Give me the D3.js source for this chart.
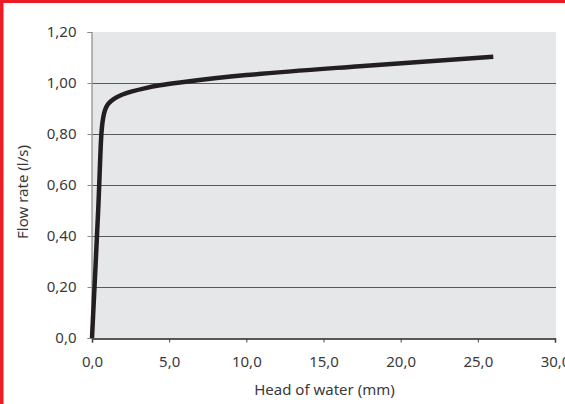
<!DOCTYPE html>
<html><head><meta charset="utf-8">
<script src="https://cdn.jsdelivr.net/npm/d3@7"></script>
<style>html,body{margin:0;padding:0;background:#fff;overflow:hidden}</style>
</head><body>
<svg id="c" width="565" height="404"></svg>
<script>
const headMM = [0, 0.4, 0.62, 0.72, 0.84, 1.05, 1.4, 1.9, 2.6, 3.4, 4.4, 5.7, 10, 17.35, 26];
const flowLs = [0, 0.5, 0.81, 0.862, 0.893, 0.918, 0.937, 0.953, 0.967, 0.979, 0.991, 1.002, 1.031, 1.066, 1.103];
const xTicks = [0, 5, 10, 15, 20, 25, 30];
const yTicks = [0, 0.2, 0.4, 0.6, 0.8, 1.0, 1.2];
const xTitle = "Head of water (mm)";
const yTitle = "Flow rate (l/s)";

const svg = d3.select("#c");
const font = "'Noto Sans', sans-serif";
const L = 92, R = 555, T = 32, B = 338;
const x = d3.scaleLinear().domain([0, 30]).range([L, R]);
const y = d3.scaleLinear().domain([0, 1.2]).range([B, T]);

// red frame (top and left)
svg.append("rect").attr("x", 0).attr("y", 0).attr("width", 565).attr("height", 3).attr("fill", "#ed1c24");
svg.append("rect").attr("x", 0).attr("y", 0).attr("width", 3.5).attr("height", 404).attr("fill", "#ed1c24");

// plot background
svg.append("rect").attr("x", L).attr("y", T).attr("width", R - L + 1).attr("height", B - T).attr("fill", "#e6e7e8");

// gridlines
svg.append("g").selectAll("line").data(yTicks.filter(d => d > 0 && d < 1.2)).join("line")
  .attr("x1", L).attr("x2", R + 1)
  .attr("y1", d => Math.round(y(d)) + 0.5).attr("y2", d => Math.round(y(d)) + 0.5)
  .attr("stroke", "#5a5a5a").attr("stroke-width", 1.2);

const fmtY = d => d === 0 ? "0,0" : d3.format(".2f")(d).replace(".", ",");
const fmtX = d => d3.format(".1f")(d).replace(".", ",");

// y axis
const ya = svg.append("g").attr("transform", `translate(${L - 0.5},0)`)
  .call(d3.axisLeft(y).tickValues(yTicks).tickFormat(fmtY).tickSize(4).tickPadding(11));
ya.select(".domain").attr("stroke", "#8a8a8a").attr("stroke-width", 1.2);
ya.selectAll(".tick line").attr("stroke", "#8a8a8a");
ya.selectAll("text").attr("font-family", font).attr("font-size", 15).attr("fill", "#3a3a3a");

// x axis
const xa = svg.append("g").attr("transform", `translate(0,${B + 0.5})`)
  .call(d3.axisBottom(x).tickValues(xTicks).tickFormat(fmtX).tickSize(4).tickPadding(14));
xa.select(".domain").attr("stroke", "#222").attr("stroke-width", 1.5);
xa.selectAll(".tick line").attr("stroke", "#444");
xa.selectAll("text").attr("font-family", font).attr("font-size", 15).attr("fill", "#3a3a3a");

// curve
const pts = headMM.map((h, i) => [h, flowLs[i]]);
svg.append("path").datum(pts)
  .attr("d", d3.line().x(d => x(d[0])).y(d => y(d[1])).curve(d3.curveCatmullRom.alpha(0.5)))
  .attr("fill", "none").attr("stroke", "#231f20").attr("stroke-width", 4.5)
  .attr("stroke-linejoin", "round");

// titles
svg.append("text").attr("x", (L + R) / 2 + 1).attr("y", 395).attr("text-anchor", "middle")
  .attr("font-family", font).attr("font-size", 15).attr("fill", "#3a3a3a").text(xTitle);
svg.append("text").attr("transform", `translate(28,${(T + B) / 2 + 7}) rotate(-90)`).attr("text-anchor", "middle")
  .attr("font-family", font).attr("font-size", 15).attr("fill", "#3a3a3a").text(yTitle);
</script>
</body></html>
